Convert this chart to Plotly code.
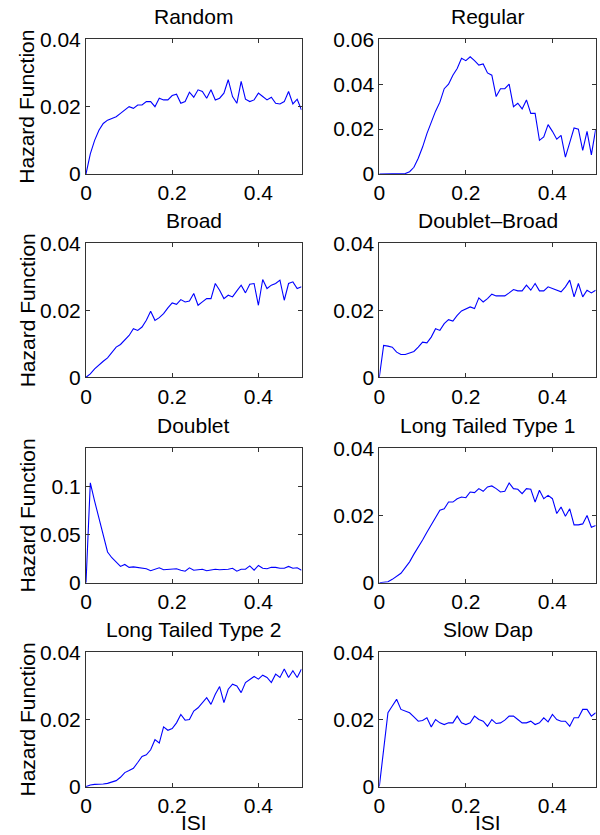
import plotly.graph_objects as go

ISI = [0.00, 0.01, 0.02, 0.03, 0.04, 0.05, 0.06, 0.07, 0.08, 0.09,
       0.10, 0.11, 0.12, 0.13, 0.14, 0.15, 0.16, 0.17, 0.18, 0.19,
       0.20, 0.21, 0.22, 0.23, 0.24, 0.25, 0.26, 0.27, 0.28, 0.29,
       0.30, 0.31, 0.32, 0.33, 0.34, 0.35, 0.36, 0.37, 0.38, 0.39,
       0.40, 0.41, 0.42, 0.43, 0.44, 0.45, 0.46, 0.47, 0.48, 0.49, 0.50]

RANDOM = [0, 0.006, 0.010, 0.013, 0.015, 0.016, 0.0165, 0.017, 0.018, 0.019,
          0.020, 0.0195, 0.0205, 0.0205, 0.0215, 0.0215, 0.020, 0.0225, 0.022, 0.022,
          0.0233, 0.0237, 0.021, 0.0215, 0.0243, 0.0228, 0.025, 0.0245, 0.0225, 0.025,
          0.022, 0.0225, 0.024, 0.028, 0.023, 0.021, 0.0275, 0.0222, 0.0215, 0.022,
          0.024, 0.023, 0.022, 0.0228, 0.021, 0.0208, 0.0215, 0.0245, 0.0208, 0.0222, 0.019]

REGULAR = [0, 0, 0, 0, 0, 0, 0.0002, 0.001, 0.003, 0.007,
           0.012, 0.018, 0.023, 0.028, 0.032, 0.038, 0.040, 0.044, 0.047, 0.0515,
           0.0505, 0.0522, 0.0505, 0.0485, 0.049, 0.045, 0.044, 0.0345, 0.038, 0.038,
           0.040, 0.030, 0.0315, 0.029, 0.033, 0.027, 0.027, 0.015, 0.0165, 0.022,
           0.019, 0.0155, 0.0172, 0.0075, 0.014, 0.0205, 0.020, 0.0105, 0.019, 0.0085, 0.020]

BROAD = [0, 0.001, 0.0025, 0.0038, 0.0048, 0.0058, 0.0075, 0.009, 0.0098, 0.011,
         0.0125, 0.0145, 0.014, 0.015, 0.017, 0.0197, 0.017, 0.0178, 0.019, 0.0207,
         0.0222, 0.0218, 0.0232, 0.0225, 0.0228, 0.025, 0.0215, 0.0225, 0.0235, 0.0235,
         0.028, 0.026, 0.0235, 0.0245, 0.024, 0.0258, 0.0275, 0.0252, 0.0278, 0.028,
         0.0215, 0.0292, 0.0265, 0.0275, 0.028, 0.029, 0.023, 0.028, 0.0285, 0.0265, 0.027]

DOUBLET_BROAD = [0, 0.0095, 0.0093, 0.009, 0.0075, 0.0068, 0.0068, 0.0072, 0.0077, 0.009,
                 0.0105, 0.0103, 0.012, 0.0145, 0.014, 0.016, 0.0172, 0.0168, 0.0185, 0.0198,
                 0.0205, 0.021, 0.0205, 0.0237, 0.0225, 0.0235, 0.0248, 0.0243, 0.0243, 0.0243,
                 0.0252, 0.0262, 0.0258, 0.0258, 0.0275, 0.026, 0.028, 0.0258, 0.0258, 0.027,
                 0.0265, 0.026, 0.0255, 0.027, 0.029, 0.024, 0.028, 0.024, 0.026, 0.0252, 0.026]

DOUBLET = [0, 0.104, 0.085, 0.068, 0.048, 0.032, 0.026, 0.022, 0.017, 0.019,
           0.016, 0.0165, 0.016, 0.0155, 0.0145, 0.0125, 0.014, 0.0155, 0.0135, 0.014,
           0.014, 0.0145, 0.013, 0.012, 0.0155, 0.013, 0.0135, 0.014, 0.0125, 0.013,
           0.014, 0.0135, 0.0135, 0.014, 0.015, 0.012, 0.014, 0.014, 0.0175, 0.013,
           0.018, 0.015, 0.0145, 0.016, 0.016, 0.015, 0.015, 0.017, 0.015, 0.0155, 0.013]

LONG_TAILED_1 = [0, 0.0001, 0.0003, 0.001, 0.0018, 0.0028, 0.0045, 0.0062, 0.0085, 0.0105,
                 0.0127, 0.015, 0.0171, 0.0195, 0.0216, 0.022, 0.024, 0.024, 0.025, 0.0255,
                 0.0253, 0.027, 0.0268, 0.028, 0.0272, 0.0285, 0.0288, 0.028, 0.027, 0.0272,
                 0.0297, 0.028, 0.0278, 0.0265, 0.028, 0.0278, 0.024, 0.0275, 0.025, 0.026,
                 0.025, 0.0206, 0.0225, 0.0198, 0.022, 0.0172, 0.0172, 0.0175, 0.020, 0.0165, 0.017]

LONG_TAILED_2 = [0, 0.0005, 0.0007, 0.0007, 0.0008, 0.001, 0.0015, 0.0018, 0.0028, 0.0042,
                 0.0048, 0.0055, 0.0072, 0.009, 0.0095, 0.011, 0.014, 0.013, 0.0178, 0.0168,
                 0.0173, 0.019, 0.0215, 0.0198, 0.020, 0.0225, 0.0235, 0.025, 0.0265, 0.0245,
                 0.0275, 0.0298, 0.025, 0.029, 0.0305, 0.030, 0.028, 0.031, 0.032, 0.0328,
                 0.032, 0.0332, 0.0325, 0.031, 0.0335, 0.0325, 0.035, 0.0325, 0.0345, 0.0325, 0.035]

SLOW_DAP = [0, 0.012, 0.022, 0.024, 0.026, 0.023, 0.0225, 0.022, 0.0208, 0.0195,
            0.0197, 0.0205, 0.0178, 0.020, 0.019, 0.0185, 0.019, 0.019, 0.021, 0.019,
            0.0185, 0.019, 0.021, 0.020, 0.0195, 0.018, 0.020, 0.0188, 0.019, 0.0198,
            0.021, 0.021, 0.020, 0.019, 0.019, 0.0195, 0.0185, 0.019, 0.0205, 0.0193,
            0.0215, 0.020, 0.0195, 0.0195, 0.018, 0.0205, 0.0205, 0.023, 0.023, 0.021, 0.022]

TITLES = ["Random", "Regular", "Broad", "Doublet\u2013Broad",
          "Doublet", "Long Tailed Type 1", "Long Tailed Type 2", "Slow Dap"]
SERIES = [RANDOM, REGULAR, BROAD, DOUBLET_BROAD, DOUBLET, LONG_TAILED_1, LONG_TAILED_2, SLOW_DAP]
Y_MAX = [0.04, 0.06, 0.04, 0.04, 0.14, 0.04, 0.04, 0.04]
Y_TICKS = [[0, 0.02, 0.04], [0, 0.02, 0.04, 0.06], [0, 0.02, 0.04], [0, 0.02, 0.04],
           [0, 0.05, 0.1], [0, 0.02, 0.04], [0, 0.02, 0.04], [0, 0.02, 0.04]]
Y_TICKTEXT = [["0", "0.02", "0.04"], ["0", "0.02", "0.04", "0.06"], ["0", "0.02", "0.04"],
              ["0", "0.02", "0.04"], ["0", "0.05", "0.1"], ["0", "0.02", "0.04"],
              ["0", "0.02", "0.04"], ["0", "0.02", "0.04"]]
X_TICKS = [0, 0.2, 0.4]
X_TICKTEXT = ["0", "0.2", "0.4"]
Y_LABEL = "Hazard Function"
X_LABEL = "ISI"

W, H = 600, 835
COL_PX = [(86, 301.5), (379.3, 595.7)]
ROW_PX = [(39.3, 174), (243.3, 377.3), (448.3, 582.7), (652.3, 786.7)]
FONT = "Liberation Sans, Arial, Helvetica, sans-serif"
FS = 21

fig = go.Figure()
layout = dict(width=W, height=H, margin=dict(l=0, r=0, t=0, b=0, autoexpand=False),
              paper_bgcolor="white", plot_bgcolor="white", showlegend=False,
              font=dict(family=FONT, size=FS, color="black"))
annotations = []

for i, (title, ys) in enumerate(zip(TITLES, SERIES)):
    r, c = divmod(i, 2)
    n = i + 1
    xa = "x" if n == 1 else f"x{n}"
    ya = "y" if n == 1 else f"y{n}"
    fig.add_trace(go.Scatter(x=ISI, y=ys, mode="lines", xaxis=xa, yaxis=ya,
                             line=dict(color="#0000ff", width=1.1)))
    x0, x1 = COL_PX[c]
    yt, yb = ROW_PX[r]
    axcommon = dict(showline=True, linecolor="#333", linewidth=1, mirror="ticks",
                    ticks="inside", ticklen=4, tickcolor="#333", showgrid=False,
                    zeroline=False, automargin=False,
                    tickfont=dict(family=FONT, size=FS, color="black"))
    layout["xaxis" if n == 1 else f"xaxis{n}"] = dict(
        domain=[x0 / W, x1 / W], anchor=ya, range=[0, 0.5],
        tickvals=X_TICKS, ticktext=X_TICKTEXT, **axcommon)
    layout["yaxis" if n == 1 else f"yaxis{n}"] = dict(
        domain=[1 - yb / H, 1 - yt / H], anchor=xa, range=[0, Y_MAX[i]],
        tickvals=Y_TICKS[i], ticktext=Y_TICKTEXT[i], **axcommon)
    annotations.append(dict(text=title, xref="paper", yref="paper",
                            x=(x0 + x1) / 2 / W, y=1 - (yt - 23) / H,
                            xanchor="center", yanchor="middle", showarrow=False,
                            font=dict(family=FONT, size=FS, color="black")))
    if c == 0:
        annotations.append(dict(text=Y_LABEL, xref="paper", yref="paper",
                                x=27 / W, y=1 - (yt + yb) / 2 / H, textangle=-90,
                                xanchor="center", yanchor="middle", showarrow=False,
                                font=dict(family=FONT, size=FS, color="black")))
    if r == 3:
        annotations.append(dict(text=X_LABEL, xref="paper", yref="paper",
                                x=(x0 + x1) / 2 / W, y=0, borderpad=0,
                                xanchor="center", yanchor="bottom", showarrow=False,
                                font=dict(family=FONT, size=FS, color="black")))

layout["annotations"] = annotations
fig.update_layout(**layout)
fig.write_html("out.html")
